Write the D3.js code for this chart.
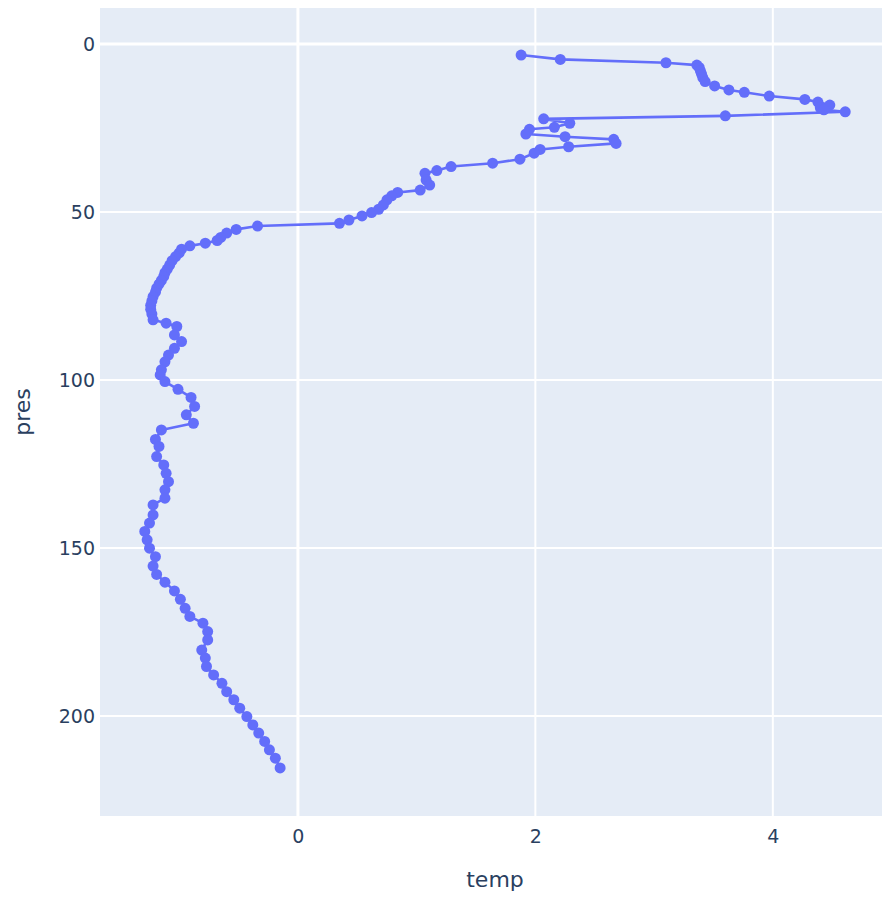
<!DOCTYPE html>
<html>
<head>
<meta charset="utf-8">
<script src="https://cdn.jsdelivr.net/npm/d3@7/dist/d3.min.js"></script>
<style>
  html, body { margin: 0; padding: 0; background: #ffffff; }
  svg { display: block; }
  text { font-family: "DejaVu Sans", Verdana, sans-serif; fill: #2a3f5f; }
</style>
</head>
<body>
<svg id="chart" width="882" height="897"></svg>
<script>
// Temperature profile: pressure (dbar) and temperature (°C), ordered by depth
const pres = [
  3.3, 4.6, 5.6, 6.3, 7.0, 8.0, 9.0, 10.0, 11.2, 12.5, 13.7, 14.4, 15.5, 16.5,
  17.3, 18.2, 19.0, 19.6, 20.2, 21.4, 22.3, 23.6, 24.8, 25.4, 26.8, 27.6, 28.4,
  29.6, 30.6, 31.4, 32.5, 34.3, 35.5, 36.5, 37.7, 38.5, 40.5, 42.0, 43.5, 44.2,
  45.2, 46.4, 47.9, 49.2, 50.2, 51.2, 52.4, 53.4, 54.2, 55.2, 56.3, 57.6, 58.5,
  59.3, 60.1, 61.1, 62.2, 63.3, 64.5, 65.8, 67.0, 68.1, 69.2, 70.4, 71.5, 72.7,
  73.9, 75.2, 76.5, 77.8, 79.0, 80.4, 82.1, 83.1, 84.1, 86.6, 88.6, 90.6, 92.6,
  94.6, 97.0, 98.5, 100.5, 102.8, 105.2, 107.9, 110.4, 112.9, 114.9, 117.7,
  119.8, 122.8, 125.3, 127.8, 130.3, 132.7, 135.2, 137.2, 140.2, 142.6, 145.1,
  147.6, 150.1, 152.6, 155.4, 157.9, 160.2, 162.8, 165.3, 168.0, 170.4, 172.4,
  174.9, 177.4, 180.4, 182.8, 185.3, 187.8, 190.3, 192.8, 195.2, 197.7, 200.2,
  202.7, 205.1, 207.6, 210.1, 212.6, 215.5
];
const temp = [
  1.88, 2.21, 3.10, 3.36, 3.38, 3.39, 3.40, 3.41, 3.43, 3.51, 3.63, 3.76, 3.97, 4.27,
  4.38, 4.48, 4.40, 4.43, 4.61, 3.60, 2.07, 2.29, 2.16, 1.95, 1.92, 2.25, 2.66,
  2.68, 2.28, 2.04, 1.99, 1.87, 1.64, 1.29, 1.17, 1.07, 1.08, 1.11, 1.03, 0.84,
  0.79, 0.75, 0.72, 0.68, 0.62, 0.54, 0.43, 0.35, -0.34, -0.52, -0.60, -0.65, -0.68,
  -0.78, -0.91, -0.98, -1.00, -1.03, -1.06, -1.08, -1.10, -1.12, -1.13, -1.15, -1.17, -1.19,
  -1.20, -1.22, -1.23, -1.24, -1.24, -1.23, -1.22, -1.11, -1.02, -1.04, -0.98, -1.04, -1.09,
  -1.12, -1.15, -1.16, -1.12, -1.01, -0.90, -0.87, -0.94, -0.88, -1.15, -1.20,
  -1.17, -1.19, -1.13, -1.11, -1.09, -1.12, -1.12, -1.22, -1.22, -1.25, -1.29,
  -1.27, -1.25, -1.20, -1.22, -1.19, -1.12, -1.04, -0.99, -0.95, -0.91, -0.80,
  -0.76, -0.76, -0.81, -0.78, -0.77, -0.71, -0.64, -0.60, -0.54, -0.49, -0.43,
  -0.38, -0.33, -0.28, -0.24, -0.19, -0.15
];
const xTicks = [0, 2, 4];
const yTicks = [0, 50, 100, 150, 200];
const xTitle = "temp";
const yTitle = "pres";

const points = pres.map((p, i) => ({ pres: p, temp: temp[i] }));

const plot = { left: 100, top: 8, right: 890, bottom: 816 };

// Autorange-style padding around the data extent
const tExt = d3.extent(temp), pExt = d3.extent(pres);
const x = d3.scaleLinear()
  .domain([tExt[0] - 0.377, tExt[1] + 0.377])
  .range([plot.left, plot.right]);
const y = d3.scaleLinear()
  .domain([pExt[0] - 14.0, pExt[1] + 14.3])
  .range([plot.top, plot.bottom]);   // depth increases downward

const svg = d3.select("#chart");

svg.append("defs").append("clipPath").attr("id", "plot-clip")
  .append("rect")
  .attr("x", plot.left).attr("y", plot.top)
  .attr("width", plot.right - plot.left).attr("height", plot.bottom - plot.top);

// Plot background
svg.append("rect")
  .attr("x", plot.left).attr("y", plot.top)
  .attr("width", plot.right - plot.left).attr("height", plot.bottom - plot.top)
  .attr("fill", "#E5ECF6");

// Grid lines (zero lines drawn heavier)
const grid = svg.append("g").attr("clip-path", "url(#plot-clip)");
grid.selectAll("line.vx").data(xTicks).join("line")
  .attr("x1", d => x(d)).attr("x2", d => x(d))
  .attr("y1", plot.top).attr("y2", plot.bottom)
  .attr("stroke", "#ffffff")
  .attr("stroke-width", d => d === 0 ? 3 : 2);
grid.selectAll("line.hy").data(yTicks).join("line")
  .attr("x1", plot.left).attr("x2", plot.right)
  .attr("y1", d => y(d)).attr("y2", d => y(d))
  .attr("stroke", "#ffffff")
  .attr("stroke-width", d => d === 0 ? 3 : 2);

// Axes via d3-axis, restyled: labels only
const xAxis = svg.append("g")
  .attr("transform", `translate(0,${plot.bottom})`)
  .call(d3.axisBottom(x).tickValues(xTicks).tickSize(0).tickPadding(27).tickFormat(d3.format("d")));
const yAxis = svg.append("g")
  .attr("transform", `translate(${plot.left},0)`)
  .call(d3.axisLeft(y).tickValues(yTicks).tickSize(0).tickPadding(5).tickFormat(d3.format("d")));
[xAxis, yAxis].forEach(g => {
  g.select(".domain").remove();
  g.selectAll("text")
    .attr("font-family", "'DejaVu Sans', Verdana, sans-serif")
    .attr("font-size", 19)
    .attr("fill", "#2a3f5f");
});
xAxis.selectAll("text").attr("dy", 0);
yAxis.selectAll("text").attr("dy", "0.35em");

// Axis titles
svg.append("text")
  .attr("x", (plot.left + plot.right) / 2).attr("y", 887)
  .attr("text-anchor", "middle")
  .attr("font-size", 22)
  .text(xTitle);
svg.append("text")
  .attr("transform", `translate(30,${(plot.top + plot.bottom) / 2}) rotate(-90)`)
  .attr("text-anchor", "middle")
  .attr("font-size", 22)
  .text(yTitle);

// Profile trace: line + markers
const g = svg.append("g").attr("clip-path", "url(#plot-clip)");
g.append("path")
  .datum(points)
  .attr("d", d3.line().x(d => x(d.temp)).y(d => y(d.pres)))
  .attr("fill", "none")
  .attr("stroke", "#636efa")
  .attr("stroke-width", 2.6)
  .attr("stroke-linejoin", "round");
g.selectAll("circle").data(points).join("circle")
  .attr("cx", d => x(d.temp))
  .attr("cy", d => y(d.pres))
  .attr("r", 5.5)
  .attr("fill", "#636efa");
</script>
</body>
</html>
